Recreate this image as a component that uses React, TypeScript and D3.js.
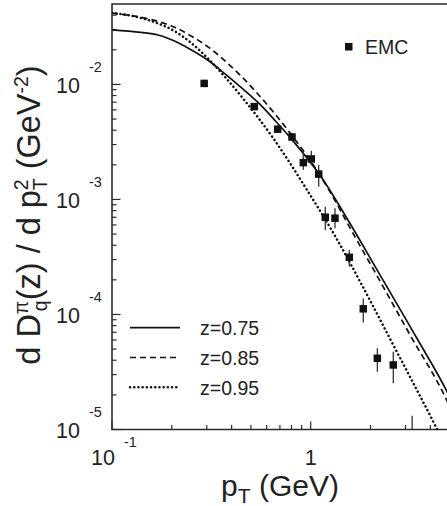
import React, { useEffect, useRef } from 'react';
import * as d3 from 'd3';

// EMC data points (pT in GeV, value, lower / upper end of error bar)
const emcPt = [0.291, 0.52, 0.682, 0.805, 0.918, 1.007, 1.097, 1.184, 1.325, 1.564, 1.839, 2.165, 2.604, 3.24];
const emcVal = [0.0102, 0.00641, 0.00408, 0.00349, 0.00209, 0.00225, 0.00166, 0.0007, 0.000687, 0.000314, 0.000112, 0.0000416, 0.0000364, 0.000006];
const emcLo = [0.0099, 0.0061, 0.0038, 0.0032, 0.00181, 0.002, 0.00129, 0.000543, 0.000562, 0.000261, 0.000085, 0.0000318, 0.0000252, 0.000003];
const emcHi = [0.0105, 0.0068, 0.0044, 0.0038, 0.00261, 0.00265, 0.002, 0.000865, 0.000838, 0.000364, 0.000138, 0.0000508, 0.0000475, 0.0000132];

// model curves
const z075Pt = [0.1, 0.14, 0.1703, 0.2075, 0.2498, 0.3041, 0.3705, 0.4459, 0.543, 0.6611, 0.8146, 1.114, 1.577, 2.157, 3.428, 4.853, 5.0];
const z075Val = [0.0298, 0.0283, 0.0269, 0.0237, 0.02, 0.0162, 0.01233, 0.00942, 0.00697, 0.00486, 0.00323, 0.00162, 0.000618, 0.000244, 0.0000618, 0.0000213, 0.0000192];

const z085Pt = [0.1, 0.14, 0.1703, 0.2075, 0.2498, 0.3041, 0.3705, 0.4459, 0.5305, 0.6611, 0.8146, 0.992, 1.26, 1.577, 2.233, 3.162, 4.853, 5.0];
const z085Val = [0.0416, 0.0383, 0.0353, 0.0313, 0.0264, 0.0212, 0.016, 0.01186, 0.00861, 0.00553, 0.00349, 0.0022, 0.00114, 0.000565, 0.000195, 0.0000664, 0.0000177, 0.0000158];

const z095Pt = [0.1, 0.14, 0.1703, 0.2075, 0.2498, 0.3041, 0.3705, 0.4459, 0.6459, 0.958, 1.325, 1.833, 2.449, 4.224, 4.474];
const z095Val = [0.0419, 0.0378, 0.0339, 0.0289, 0.023, 0.0168, 0.01161, 0.00794, 0.00343, 0.00121, 0.000482, 0.000173, 0.0000664, 0.0000109, 0.00000896];

const legendLabels = ['z=0.75', 'z=0.85', 'z=0.95'];
const legendDash = [null, '6,4', '0.1,4.1'];

const xMinor = [0.2, 0.3, 0.4, 0.5, 0.6, 0.7, 0.8, 0.9, 2, 3, 4];
const xMajor = [0.1, 1];
const yMajor = [1e-5, 1e-4, 1e-3, 1e-2];
const yExp = ['-5', '-4', '-3', '-2'];

const FONT = '"Liberation Sans", Arial, Helvetica, sans-serif';

export default function App() {
  const ref = useRef<SVGSVGElement>(null);

  useEffect(() => {
    const W = 447, H = 506;
    const left = 112, top = 4, bottom = 429.5;
    const svg = d3.select(ref.current);
    svg.selectAll('*').remove();

    const x = d3.scaleLog().domain([0.1, 5]).range([left, 449.6]);
    const y = d3.scaleLog().domain([1e-5, 0.05]).range([bottom, top]);

    svg.append('rect').attr('width', W).attr('height', H).attr('fill', '#fff');

    svg.append('defs').append('clipPath').attr('id', 'plot-clip')
      .append('rect').attr('x', left).attr('y', top).attr('width', W - left).attr('height', bottom - top);

    const axisColor = '#2b2b2b';

    // y minor ticks
    var yMinor: number[] = [];
    [1e-5, 1e-4, 1e-3, 1e-2].forEach(d => {
      for (var k = 2; k <= 9; k++) if (d * k < 0.05) yMinor.push(d * k);
    });
    svg.append('g').selectAll('line').data(yMinor).enter().append('line')
      .attr('x1', left).attr('x2', left + 4.5)
      .attr('y1', d => y(d)).attr('y2', d => y(d))
      .attr('stroke', axisColor).attr('stroke-width', 1.2);
    svg.append('g').selectAll('line').data(yMajor).enter().append('line')
      .attr('x1', left).attr('x2', left + 8.5)
      .attr('y1', d => y(d)).attr('y2', d => y(d))
      .attr('stroke', axisColor).attr('stroke-width', 1.2);

    // x ticks
    svg.append('g').selectAll('line').data(xMinor).enter().append('line')
      .attr('x1', d => x(d)).attr('x2', d => x(d))
      .attr('y1', bottom).attr('y2', bottom - 4.5)
      .attr('stroke', axisColor).attr('stroke-width', 1.2);
    svg.append('g').selectAll('line').data(xMajor).enter().append('line')
      .attr('x1', d => x(d)).attr('x2', d => x(d))
      .attr('y1', bottom).attr('y2', bottom - 8)
      .attr('stroke', axisColor).attr('stroke-width', 1.2);

    // frame
    svg.append('path')
      .attr('d', `M${W},${top}H${left}V${bottom}H${W}`)
      .attr('fill', 'none').attr('stroke', axisColor).attr('stroke-width', 1.6);

    // y tick labels
    yMajor.forEach((d, i) => {
      svg.append('text').attr('x', 80).attr('y', y(d) + 8.5)
        .attr('text-anchor', 'end').attr('font-size', 21.5).attr('font-family', FONT).attr('fill', '#222')
        .text('10');
      svg.append('text').attr('x', 89).attr('y', y(d) - 12.5)
        .attr('font-size', 14.5).attr('font-family', FONT).attr('fill', '#222')
        .text(yExp[i]);
    });

    // x tick labels
    svg.append('text').attr('x', 103).attr('y', 464.5)
      .attr('text-anchor', 'middle').attr('font-size', 21.5).attr('font-family', FONT).attr('fill', '#222').text('10');
    svg.append('text').attr('x', 124).attr('y', 447)
      .attr('font-size', 14.5).attr('font-family', FONT).attr('fill', '#222').text('-1');
    svg.append('text').attr('x', x(1)).attr('y', 464.5)
      .attr('text-anchor', 'middle').attr('font-size', 21.5).attr('font-family', FONT).attr('fill', '#222').text('1');

    // axis titles
    const xt = svg.append('text').attr('x', 280).attr('y', 496)
      .attr('text-anchor', 'middle').attr('font-size', 30).attr('font-family', FONT).attr('fill', '#222');
    xt.append('tspan').text('p');
    xt.append('tspan').attr('font-size', 21).attr('dy', 7).text('T');
    xt.append('tspan').attr('dy', -7).text(' (GeV)');

    const yt = svg.append('text')
      .attr('transform', 'translate(40,215) rotate(-90)')
      .attr('text-anchor', 'middle').attr('font-size', 32.5).attr('font-family', FONT).attr('fill', '#222');
    yt.append('tspan').text('d D');
    yt.append('tspan').attr('font-size', 19.5).attr('dy', -12.5).text('π');
    yt.append('tspan').attr('font-size', 19.5).attr('dx', -10.5).attr('dy', 19.5).text('q');
    yt.append('tspan').attr('dy', -7).text('(z) / d p');
    yt.append('tspan').attr('font-size', 19.5).attr('dy', -12.5).text('2');
    yt.append('tspan').attr('font-size', 19.5).attr('dx', -11).attr('dy', 19.5).text('T');
    yt.append('tspan').attr('dy', -7).text(' (GeV');
    yt.append('tspan').attr('font-size', 19.5).attr('dy', -12.5).text('-2');
    yt.append('tspan').attr('dy', 12.5).text(')');

    // curves
    const plot = svg.append('g').attr('clip-path', 'url(#plot-clip)');
    const line = d3.line<[number, number]>()
      .x(d => x(d[0])).y(d => y(d[1]))
      .curve(d3.curveMonotoneX);

    const series = [
      { pt: z075Pt, val: z075Val },
      { pt: z085Pt, val: z085Val },
      { pt: z095Pt, val: z095Val }
    ];
    series.forEach((s, i) => {
      const pts = s.pt.map((p, j) => [p, s.val[j]] as [number, number]);
      const p = plot.append('path').attr('d', line(pts))
        .attr('fill', 'none').attr('stroke', '#111')
        .attr('stroke-width', i === 2 ? 2.5 : 1.7);
      if (legendDash[i]) p.attr('stroke-dasharray', legendDash[i]);
      if (i === 2) p.attr('stroke-linecap', 'round');
    });

    // error bars + markers
    emcPt.forEach((p, i) => {
      plot.append('line')
        .attr('x1', x(p)).attr('x2', x(p))
        .attr('y1', y(emcLo[i])).attr('y2', y(emcHi[i]))
        .attr('stroke', '#333').attr('stroke-width', 1.3);
      plot.append('rect')
        .attr('x', x(p) - 3.75).attr('y', y(emcVal[i]) - 3.75)
        .attr('width', 7.5).attr('height', 7.5).attr('fill', '#111');
    });

    // legends
    svg.append('rect').attr('x', 345).attr('y', 43).attr('width', 7.5).attr('height', 7.5).attr('fill', '#111');
    svg.append('text').attr('x', 365).attr('y', 53.5)
      .attr('font-size', 19.5).attr('font-family', FONT).attr('fill', '#222').text('EMC');

    legendLabels.forEach((lab, i) => {
      const ly = 327.7 + i * 29.8;
      const l = svg.append('line').attr('x1', 130).attr('x2', 180)
        .attr('y1', ly).attr('y2', ly)
        .attr('stroke', '#111').attr('stroke-width', i === 2 ? 2.5 : 1.7);
      if (legendDash[i]) l.attr('stroke-dasharray', legendDash[i]);
      if (i === 2) l.attr('stroke-linecap', 'round');
      svg.append('text').attr('x', 200).attr('y', ly + 7.3)
        .attr('font-size', 19.5).attr('font-family', FONT).attr('fill', '#222').text(lab);
    });
  }, []);

  return (
    <svg ref={ref} width={447} height={506}
      style={{ position: 'absolute', left: 0, top: 0, display: 'block' }} />
  );
}
